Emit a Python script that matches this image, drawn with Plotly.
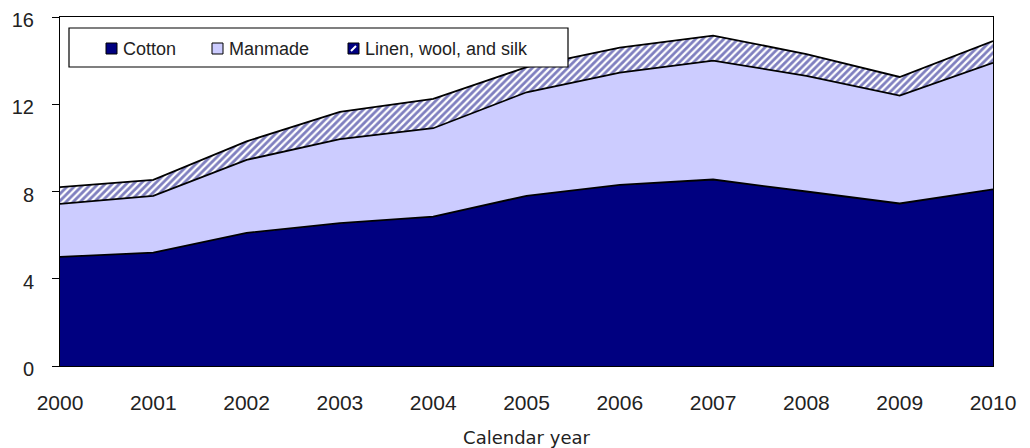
import plotly.graph_objects as go

years = [2000, 2001, 2002, 2003, 2004, 2005, 2006, 2007, 2008, 2009, 2010]
cotton = [5.0, 5.2, 6.1, 6.55, 6.85, 7.8, 8.3, 8.55, 8.0, 7.45, 8.1]
manmade = [2.43, 2.6, 3.35, 3.85, 4.05, 4.75, 5.15, 5.45, 5.3, 4.95, 5.8]
linen = [0.77, 0.73, 0.85, 1.25, 1.35, 1.15, 1.15, 1.15, 1.0, 0.85, 1.0]
series_names = ["Cotton", "Manmade", "Linen, wool, and silk"]
y_ticks = [0, 4, 8, 12, 16]
x_title = "Calendar year"

NAVY = "#000080"
LAV = "#CCCCFF"
TXT = "#222222"

OFF = 8  # page body margin
W, H = 1030 - OFF, 448 - OFF
ML, MR, MT, MB = 60 - OFF, 37, 17 - OFF, 82
PW, PH = W - ML - MR, H - MT - MB


def px(x):
    # x in window pixels
    return (x - OFF - ML) / PW


def py(y):
    # y in window pixels
    return (H - MB - (y - OFF)) / PH


fig = go.Figure()
fig.add_trace(go.Scatter(x=years, y=cotton, name=series_names[0], stackgroup="one",
                         mode="lines", line=dict(color="black", width=1.8),
                         fillcolor=NAVY, showlegend=False))
fig.add_trace(go.Scatter(x=years, y=manmade, name=series_names[1], stackgroup="one",
                         mode="lines", line=dict(color="black", width=1.8),
                         fillcolor=LAV, showlegend=False))
fig.add_trace(go.Scatter(x=years, y=linen, name=series_names[2], stackgroup="one",
                         mode="lines", line=dict(color="black", width=1.8),
                         fillcolor=NAVY,
                         fillpattern=dict(shape="/", fgcolor=NAVY, bgcolor="white",
                                          size=5, solidity=0.55),
                         showlegend=False))

shapes = []
annotations = []
# legend box
shapes.append(dict(type="rect", xref="paper", yref="paper",
                   x0=px(69), x1=px(568), y0=py(67), y1=py(28),
                   line=dict(color="black", width=1.2), fillcolor="white", layer="above"))
sq_x = [106, 212, 348]
sq_fill = [NAVY, LAV, NAVY]
txt_x = [121, 227, 363]
for i in range(3):
    shapes.append(dict(type="rect", xref="paper", yref="paper",
                       x0=px(sq_x[i]), x1=px(sq_x[i] + 11), y0=py(54), y1=py(43),
                       line=dict(color="black", width=1), fillcolor=sq_fill[i], layer="above"))
    annotations.append(dict(xref="paper", yref="paper", x=px(txt_x[i]), y=py(48.5),
                            xanchor="left", yanchor="middle", showarrow=False,
                            text=series_names[i],
                            font=dict(family="Liberation Sans", size=18, color=TXT)))
shapes.append(dict(type="line", xref="paper", yref="paper",
                   x0=px(sq_x[2] + 3), x1=px(sq_x[2] + 8), y0=py(51), y1=py(46),
                   line=dict(color="white", width=2), layer="above"))

fig.update_layout(
    width=W, height=H,
    margin=dict(l=ML, r=MR, t=MT, b=MB, autoexpand=False),
    paper_bgcolor="white", plot_bgcolor="white",
    font=dict(family="Liberation Sans", size=21, color=TXT),
    shapes=shapes, annotations=annotations,
    xaxis=dict(range=[2000, 2010], tickvals=years, ticktext=[str(y) for y in years],
               showgrid=False, zeroline=False, showline=True, mirror=True,
               linecolor="black", linewidth=1, ticks="", ticklabelstandoff=18,
               ticklabeloverflow="allow",
               tickfont=dict(size=21), automargin=False,
               title=dict(text=x_title, standoff=20,
                          font=dict(family="DejaVu Sans", size=18, color=TXT))),
    yaxis=dict(range=[0, 16], tickvals=y_ticks, showgrid=False, zeroline=False,
               showline=True, mirror=True, linecolor="black", linewidth=1,
               ticks="outside", ticklen=7, tickcolor="black", ticklabelstandoff=14,
               ticklabelshift=3, ticklabeloverflow="allow",
               tickfont=dict(size=20), automargin=False),
)

fig.write_html("out.html")
